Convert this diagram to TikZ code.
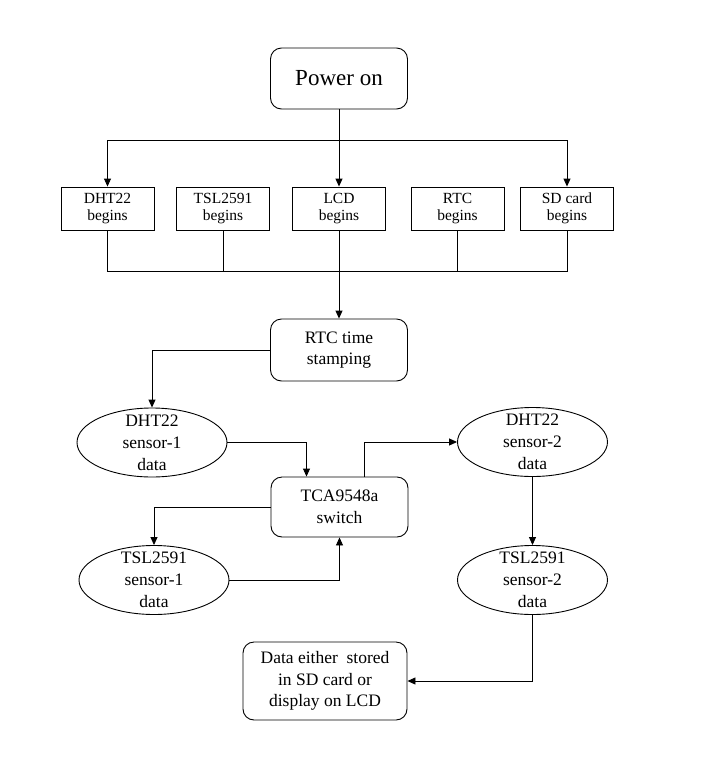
\documentclass[tikz,border=0pt]{standalone}
\usepackage{fontspec}
\setmainfont{Liberation Serif}
\usetikzlibrary{shapes.geometric,arrows.meta}
\begin{document}
\begin{tikzpicture}[x=1pt,y=-1pt,
  line width=0.9pt,
  conn/.style={draw},
  arr/.style={draw,-{Triangle[length=8pt,width=7pt]}},
  rbox/.style={draw,rounded corners=11pt,inner sep=0pt,align=center,font=\fontsize{17.5}{21.7}\selectfont},
  sbox/.style={draw,inner sep=0pt,minimum width=93pt,minimum height=43pt,align=center,font=\fontsize{15.5}{16.8}\selectfont},
  sens/.style={draw,ellipse,inner sep=0pt,minimum width=150pt,minimum height=69pt},
  etxt/.style={inner sep=0pt,align=center,font=\fontsize{17.5}{22}\selectfont}]
\useasboundingbox (0,0) rectangle (701,764);
% nodes
\node[rbox,minimum width=137pt,minimum height=61pt,font=\fontsize{23}{26}\selectfont] (pow) at (339,78.5) {Power on};
\node[sbox] (b1) at (107.5,208.5) {DHT22\\begins};
\node[sbox] (b2) at (223,208.5) {TSL2591\\begins};
\node[sbox] (b3) at (339,208.5) {LCD\\begins};
\node[sbox] (b4) at (457.5,208.5) {RTC\\begins};
\node[sbox] (b5) at (567,208.5) {SD card\\begins};
\node[rbox,minimum width=137pt,minimum height=62pt] (rtc) at (339,350) {RTC time\\stamping};
\node[rbox,minimum width=137pt,minimum height=60pt] (tca) at (339.5,507) {TCA9548a\\switch};
\node[rbox,minimum width=164pt,minimum height=78pt] (out) at (325,681) {Data either\ \ stored\\in SD card or\\display on LCD};
\node[sens] (e1) at (152,442.5) {};
\node[etxt] (e1t) at (e1.center) {DHT22\\sensor-1\\data};
\node[sens] (e2) at (532.5,442) {};
\node[etxt] (e2t) at (e2.center) {DHT22\\sensor-2\\data};
\node[sens] (e3) at (532.5,580) {};
\node[etxt] (e3t) at (e3.center) {TSL2591\\sensor-2\\data};
\node[sens] (e4) at (154,580) {};
\node[etxt] (e4t) at (e4.center) {TSL2591\\sensor-1\\data};
% bus coordinates
\coordinate (topbus) at (339,140);
\coordinate (botbus) at (339,271);
% connectors
\draw[conn] (pow.south) -- (topbus);
\draw[arr] (topbus) -| (b1.north);
\draw[arr] (topbus) -| (b5.north);
\draw[arr] (topbus) -- (b3.north);
\draw[conn] (b1.south) |- (botbus);
\draw[conn] (b5.south) |- (botbus);
\draw[conn] (b2.south) -- (b2.south |- botbus);
\draw[conn] (b4.south) -- (b4.south |- botbus);
\draw[arr] (b3.south) -- (rtc.north);
\draw[arr] (rtc.west) -| (e1.north);
\draw[arr] (e1.east) -| ([xshift=-33pt]tca.north);
\draw[arr] ([xshift=25pt]tca.north) |- (e2.west);
\draw[arr] (e2.south) -- (e3.north);
\draw[arr] (tca.west) -| (e4.north);
\draw[arr] (e4.east) -| (tca.south);
\draw[arr] (e3.south) |- (out.east);
\end{tikzpicture}
\end{document}
